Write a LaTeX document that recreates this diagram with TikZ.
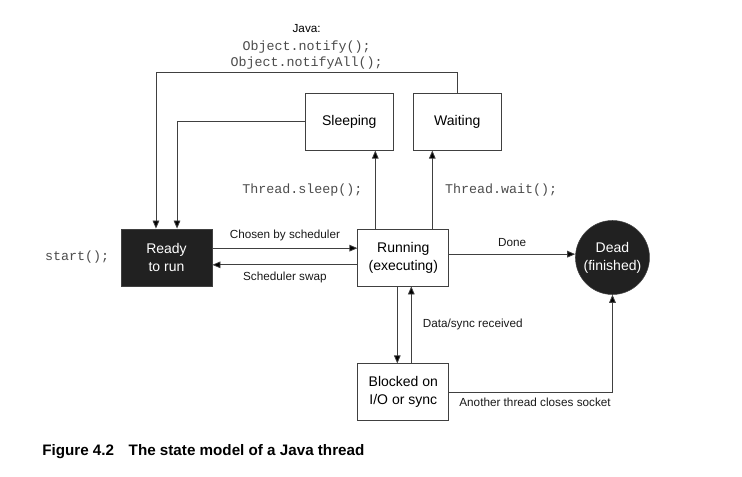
\documentclass[tikz,border=0pt]{standalone}
\usepackage{fontspec}
\setmainfont{Liberation Sans}
\setmonofont{Liberation Mono}
\usetikzlibrary{positioning,shapes,arrows.meta,calc}
\tikzset{
    statebox/.style={
    draw=black!75,
    line width=0.6pt,
    minimum width=68.25pt,
    minimum height=42.75pt,
    inner sep=1pt,
    align=center,
    font=\fontsize{10.5}{13.5}\selectfont
  },
  darkbox/.style={
    statebox,
    fill=black!87,
    text=white
  },
  mylabel/.style={
    font=\fontsize{8.8}{10}\selectfont,
    text=black!90
  },
  codelabel/.style={
    font=\ttfamily\fontsize{10}{12}\selectfont,
    text=black!70
  },
  trans/.style={
    draw=black!75,
    line width=0.6pt,
    -{Triangle[length=6pt,width=5pt,fill=black]}
  }
}

\begin{document}
\begin{tikzpicture}
  \useasboundingbox (0,0) rectangle (556.5pt,-357.75pt);

  % states
  \node[darkbox] (ready) at (124.875pt,-193.125pt) {\raisebox{-1pt}{Ready}\\\raisebox{-1pt}{to run}};
  \node[statebox] (running) [right=108.75pt of ready] {Running\\(executing)};
  \node[circle, draw=black!75, fill=black!87, text=white, minimum size=55.5pt, inner sep=0pt, align=center,
        font=\fontsize{10.5}{13.5}\selectfont] (dead) [right=94.5pt of running] {Dead\\(finished)};
  \node[statebox, minimum width=66pt] (sleeping) [above=58.5pt of running, xshift=-40.5pt] {Sleeping};
  \node[statebox, minimum width=66pt] (waiting) [above=58.5pt of running, xshift=40.5pt] {Waiting};
  \node[statebox] (blocked) [below=57.75pt of running] {Blocked on\\I/O or sync};
  \node[codelabel] (start) [left=5pt of ready] {start();};

  % transitions
  \draw[trans] ([yshift=7pt]ready.east) -- node[mylabel, above=2pt] {Chosen by scheduler} ([yshift=7pt]running.west);
  \draw[trans] ([yshift=-5.5pt]running.west) -- node[mylabel, below=2pt] {Scheduler swap} ([yshift=-5.5pt]ready.east);
  \draw[trans] ([yshift=2.5pt]running.east) -- node[mylabel, above=2pt] {Done} ([yshift=2.5pt]running.east -| dead.west);
  \draw[trans] ([xshift=-21pt]running.north) -- node[codelabel, left=6pt] {Thread.sleep();} ([xshift=-21pt]running.north |- sleeping.south);
  \draw[trans] ([xshift=21.75pt]running.north) -- node[codelabel, right=6pt] {Thread.wait();} ([xshift=21.75pt]running.north |- waiting.south);
  \draw[trans] (sleeping.west) -| ([xshift=7.9pt]ready.north);
  \draw[trans] (waiting.north) -- ++(0,15pt) -| node[pos=0.25, above=1pt, align=center, inner sep=1pt] (java)
    {{\fontsize{8.8}{10}\selectfont Java:}\\[2pt]{\ttfamily\fontsize{10}{12}\selectfont\color{black!70}Object.notify();}\\{\ttfamily\fontsize{10}{12}\selectfont\color{black!70}Object.notifyAll();}}
    ([xshift=-7.9pt]ready.north);
  \draw[trans] ([xshift=-4.5pt]running.south) -- ([xshift=-4.5pt]running.south |- blocked.north);
  \draw[trans] ([xshift=6pt]blocked.north) -- node[mylabel, right=5pt] {Data/sync received} ([xshift=6pt]blocked.north |- running.south);
  \draw[trans] (blocked.east) -| node[mylabel, pos=0, anchor=north west, xshift=4pt, yshift=-1pt] {Another thread closes socket} (dead.south);

  % caption
  \node[anchor=west, inner sep=0pt, font=\bfseries\fontsize{11.4}{13}\selectfont] (caption) at (31.5pt,-339pt)
    {Figure 4.2\hspace{11pt}The state model of a Java thread};
\end{tikzpicture}
\end{document}
